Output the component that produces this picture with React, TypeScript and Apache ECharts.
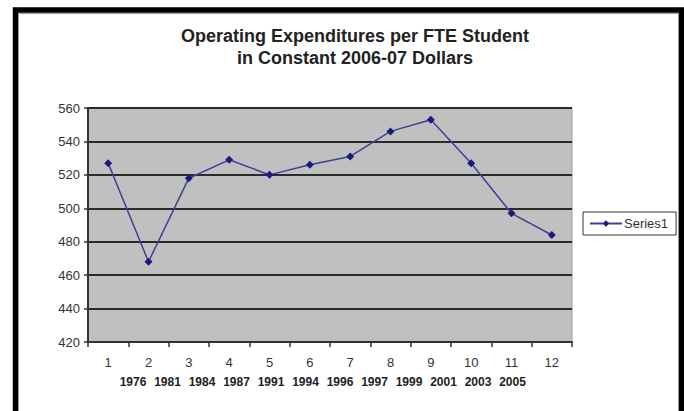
import React, { useEffect, useRef } from "react";
import * as echarts from "echarts";

const titleLines = ["Operating Expenditures per FTE Student", "in Constant 2006-07 Dollars"];
const categories = ["1", "2", "3", "4", "5", "6", "7", "8", "9", "10", "11", "12"];
const series1 = [527, 468, 518, 529, 520, 526, 531, 546, 553, 527, 497, 484];
const yearLabels = ["1976", "1981", "1984", "1987", "1991", "1994", "1996", "1997", "1999", "2001", "2003", "2005"];
const seriesName = "Series1";

const FONT = "'Liberation Sans', Arial, sans-serif";

export default function App() {
  const ref = useRef<HTMLDivElement>(null);
  useEffect(() => {
    if (!ref.current) return;
    const chart = echarts.init(ref.current, undefined, { renderer: "svg" });
    const yearTexts = yearLabels.map((y, i) => ({
      type: "text",
      x: 133 + i * 34.5,
      y: 382,
      style: {
        text: y,
        fill: "#222",
        font: `bold 12px ${FONT}`,
        align: "center",
        verticalAlign: "middle",
      },
    }));
    chart.setOption({
      animation: false,
      backgroundColor: "#fff",
      title: {
        text: titleLines.join("\n"),
        left: 350,
        top: 20,
        textAlign: "center",
        textStyle: {
          fontFamily: FONT,
          fontWeight: "bold",
          fontSize: 18,
          color: "#222",
          lineHeight: 22,
        },
      },
      legend: {
        show: true,
        left: 583,
        top: 212,
        orient: "vertical",
        borderColor: "#333",
        borderWidth: 1,
        padding: [5, 8, 5, 6],
        itemWidth: 32,
        itemHeight: 8,
        itemGap: 0,
        textStyle: { fontFamily: FONT, fontSize: 13, color: "#333", padding: [0, 0, 0, -3] },
        data: [seriesName],
      },
      grid: {
        left: 88,
        right: 112,
        top: 108,
        bottom: 69,
        show: true,
        backgroundColor: "#c0c0c0",
        borderColor: "#a0a0a0",
        borderWidth: 1,
      },
      xAxis: {
        type: "category",
        data: categories,
        boundaryGap: true,
        axisLine: { lineStyle: { color: "#333", width: 2 } },
        axisTick: { show: true, length: 5, lineStyle: { color: "#333", width: 1.5 } },
        axisLabel: { fontFamily: FONT, fontSize: 13, color: "#333", margin: 14 },
        splitLine: { show: false },
      },
      yAxis: {
        type: "value",
        min: 420,
        max: 560,
        interval: 20,
        axisLine: { show: true, lineStyle: { color: "#333", width: 2 } },
        axisTick: { show: true, length: 4, lineStyle: { color: "#333", width: 1.5 } },
        axisLabel: { fontFamily: FONT, fontSize: 13, color: "#333", margin: 8 },
        splitLine: { show: true, lineStyle: { color: "#2a2a2a", width: 2 } },
      },
      series: [
        {
          name: seriesName,
          type: "line",
          data: series1,
          symbol: "diamond",
          symbolSize: 8,
          itemStyle: { color: "#1a1a80" },
          lineStyle: { color: "#40409a", width: 1.5 },
        },
      ],
      graphic: [
        {
          type: "rect",
          shape: { x: 15.5, y: 10, width: 666, height: 420 },
          style: { fill: "none", stroke: "#000", lineWidth: 5.5 },
          silent: true,
        },
        {
          type: "polyline",
          shape: { points: [[18.5, 420], [18.5, 13.5], [678.5, 13.5], [678.5, 420]] },
          style: { fill: "none", stroke: "#999", lineWidth: 1 },
          silent: true,
        },
        ...yearTexts,
      ],
    });
    return () => chart.dispose();
  }, []);
  return <div ref={ref} style={{ width: 684, height: 411, position: "absolute", left: 0, top: 0 }} />;
}
